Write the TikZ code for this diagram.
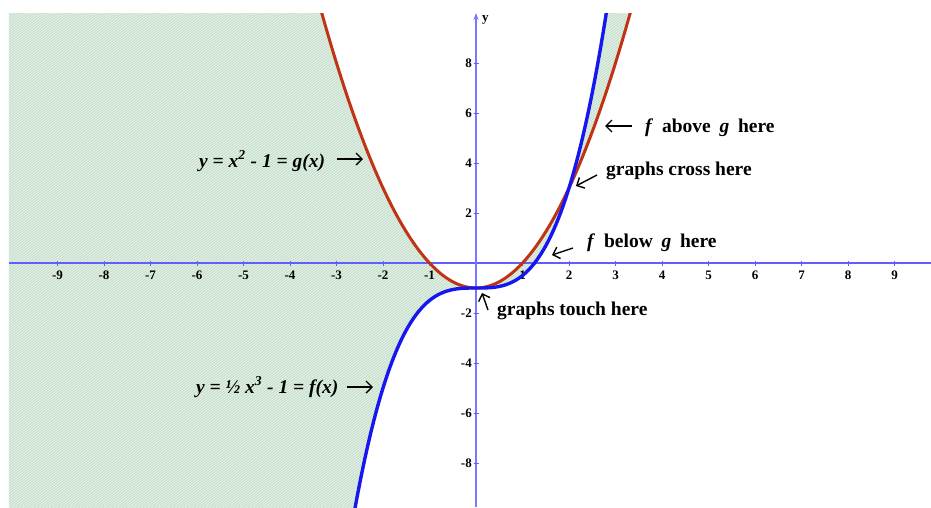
\documentclass[tikz,border=0pt]{standalone}
\usepackage{fontspec}
\setmainfont{Liberation Serif}
\usetikzlibrary{arrows.meta}
\definecolor{gred}{RGB}{192,52,22}
\definecolor{fblue}{RGB}{22,22,238}
\definecolor{axblue}{RGB}{95,95,255}
\definecolor{hatchbg}{RGB}{232,244,234}
\definecolor{hatchln}{RGB}{195,220,200}
\tikzset{
  curveg/.style={draw=gred,line width=3pt},
  curvef/.style={draw=fblue,line width=3.4pt},
  xaxisline/.style={draw=axblue,line width=1.3pt},
  yaxisline/.style={draw=axblue!85,line width=1.6pt},
  tickmark/.style={draw=axblue,line width=0.8pt},
  ticklbl/.style={font=\fontsize{13}{13}\selectfont\bfseries,inner sep=0pt},
  note/.style={font=\fontsize{19.5}{19.5}\selectfont\bfseries,inner sep=0pt,anchor=west},
  eqn/.style={font=\fontsize{19.5}{19.5}\selectfont\bfseries\itshape,inner sep=0pt,anchor=west},
  pointer/.style={draw=black,line width=1.4pt,-{Straight Barb[length=6pt,width=12pt]}},
  hatch/.style={draw=hatchln,line width=0.9pt}
}
\begin{document}
\begin{tikzpicture}[x=1pt,y=1pt]
\def\sx{46.5}\def\sy{25}
\useasboundingbox (-476,-244) rectangle (455,263);
% shaded region between the curves
\begin{scope}
  \clip (-467,-244) rectangle (455,250);
  \clip (-480,{\sy*10.56}) -- plot[domain=-3.4:3.4,samples=300] ({\sx*\x},{\sy*(\x*\x-1)})
        -- plot[domain=3.4:-3.4,samples=300] ({\sx*\x},{\sy*(0.5*\x*\x*\x-1)})
        -- (-480,{\sy*(-20.65)}) -- cycle;
  \fill[hatchbg] (-480,-260) rectangle (460,260);
  \foreach \i in {-1200,-1196.6,...,200} \draw[hatch] (\i,-250) -- ++(900,675);
\end{scope}
% axes
\draw[xaxisline] (-467,0) -- (455,0);
\draw[yaxisline,-{Stealth[length=7pt,width=5pt]}] (0,-244) -- (0,250);
\node[ticklbl,anchor=west] (ylbl) at (6,243) {y};
\foreach \n in {-9,...,-1,1,2,...,9} {
  \draw[tickmark] ({\n*\sx},-2.5) -- ({\n*\sx},2.5);
  \node[ticklbl] (xl\n) at ({\n*\sx},-12) {\n};
}
\foreach \n in {-8,-6,-4,-2,2,4,6,8} {
  \draw[tickmark] (-2.5,{\n*\sy}) -- (2.5,{\n*\sy});
  \node[ticklbl,anchor=east] (yl\n) at (-4,{\n*\sy}) {\n};
}
% curves
\begin{scope}
  \clip (-467,-244) rectangle (455,250);
  \draw[curveg] plot[domain=-3.4:3.4,samples=300] ({\sx*\x},{\sy*(\x*\x-1)});
  \draw[curvef] plot[domain=-2.7:2.9,samples=300] ({\sx*\x},{\sy*(0.5*\x*\x*\x-1)});
\end{scope}
% labels
\node[eqn] (geq) at (-277,102) {y = x\textsuperscript{2} - 1 = g(x)};
\coordinate (ga1) at (-139,104);
\coordinate (ga2) at (-113,104);
\draw[pointer] (ga1) -- (ga2);
\node[note,eqn] (feq) at (-280,-124) {y = ½ x\textsuperscript{3} - 1 = f(x)};
\coordinate (fa1) at (-129,-124);
\coordinate (fa2) at (-103,-124);
\draw[pointer] (fa1) -- (fa2);
\node[note] (above) at (169,135) {\textit{f}\hspace{0.45em}above\hspace{0.45em}\textit{g}\hspace{0.45em}here};
\coordinate (ab1) at (156,137);
\coordinate (ab2) at (129,137);
\draw[pointer] (ab1) -- (ab2);
\node[note] (cross) at (130,92) {graphs cross here};
\coordinate (cr1) at (121,88);
\coordinate (cr2) at (100,77);
\draw[pointer] (cr1) -- (cr2);
\node[note] (below) at (111,20) {\textit{f}\hspace{0.45em}below\hspace{0.45em}\textit{g}\hspace{0.45em}here};
\coordinate (be1) at (97,15);
\coordinate (be2) at (76,8);
\draw[pointer] (be1) -- (be2);
\node[note] (touch) at (21,-48) {graphs touch here};
\coordinate (to1) at (12,-47);
\coordinate (to2) at (6,-30);
\draw[pointer] (to1) -- (to2);
\end{tikzpicture}
\end{document}
